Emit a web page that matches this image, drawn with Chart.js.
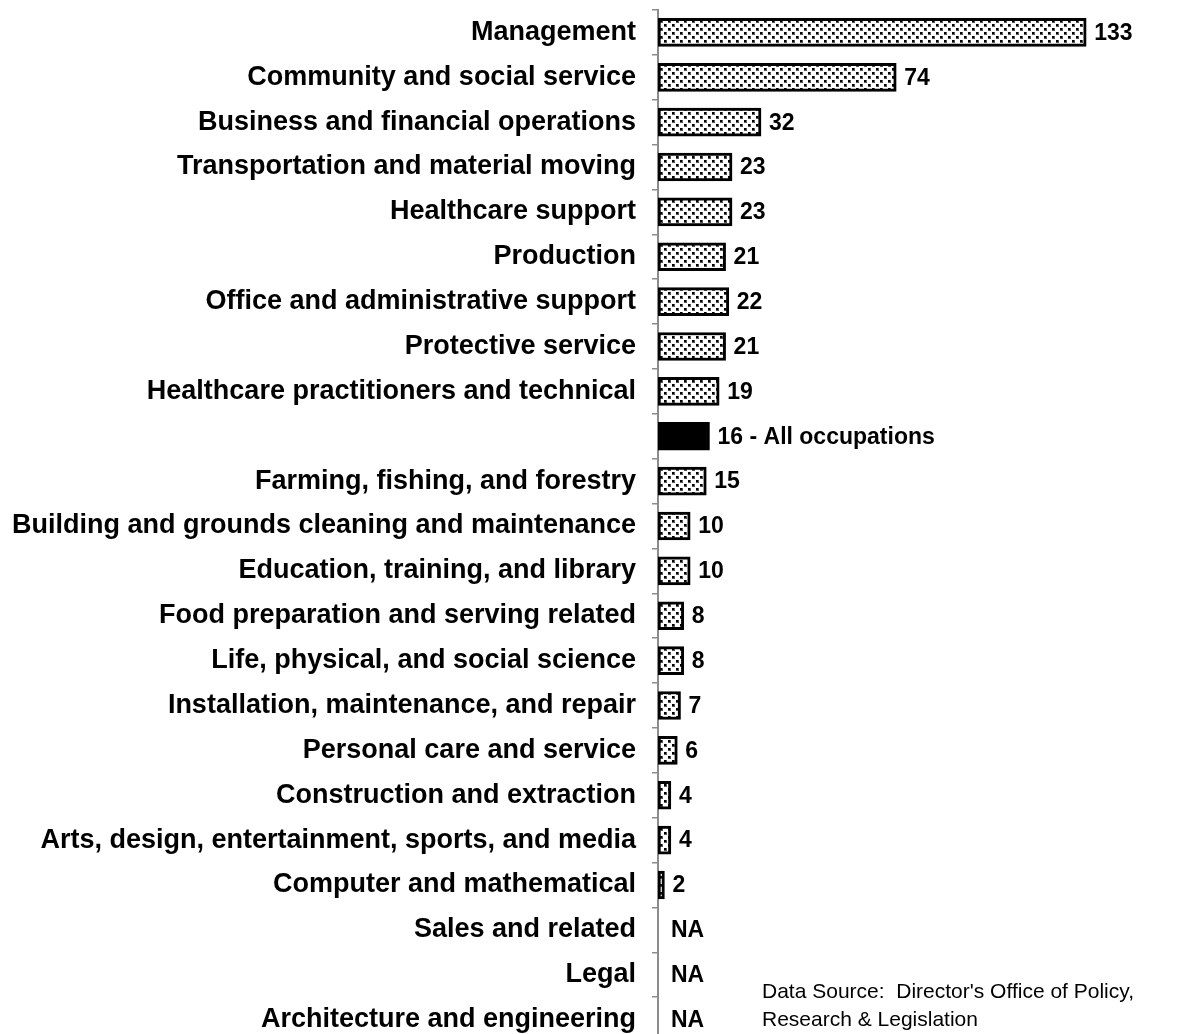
<!DOCTYPE html>
<html>
<head>
<meta charset="utf-8">
<script src="https://cdn.jsdelivr.net/npm/chart.js@4.4.1/dist/chart.umd.min.js"></script>
<style>
html, body { margin: 0; padding: 0; background: #fff; overflow: hidden; }
#wrap { position: relative; width: 1186px; height: 1042px; }
#note { position: absolute; left: 762px; top: 977px; font: 21px "Liberation Sans", Arial, sans-serif; line-height: 28px; color: #000; white-space: nowrap; }
</style>
</head>
<body>
<div id="wrap">
  <canvas id="occChart" width="1186" height="1042"></canvas>
  <div id="note">Data Source:&nbsp; Director's Office of Policy,<br>Research &amp; Legislation</div>
</div>
<script>
var categories = [
    'Management',
    'Community and social service',
    'Business and financial operations',
    'Transportation and material moving',
    'Healthcare support',
    'Production',
    'Office and administrative support',
    'Protective service',
    'Healthcare practitioners and technical',
    '',
    'Farming, fishing, and forestry',
    'Building and grounds cleaning and maintenance',
    'Education, training, and library',
    'Food preparation and serving related',
    'Life, physical, and social science',
    'Installation, maintenance, and repair',
    'Personal care and service',
    'Construction and extraction',
    'Arts, design, entertainment, sports, and media',
    'Computer and mathematical',
    'Sales and related',
    'Legal',
    'Architecture and engineering'
];
var values = [133, 74, 32, 23, 23, 21, 22, 21, 19, 16, 15, 10, 10, 8, 8, 7, 6, 4, 4, 2, null, null, null];
var allOccIndex = 9;
var allOccText = 'All occupations';
var naText = 'NA';

var fontFamily = '"Liberation Sans", Arial, sans-serif';

// black dots on white, like the excel pattern fill
function makeDots() {
    var c = document.createElement('canvas');
    c.width = 8;
    c.height = 8;
    var g = c.getContext('2d');
    g.fillStyle = '#fff';
    g.fillRect(0, 0, 8, 8);
    g.fillStyle = '#555';
    g.fillRect(0, 0, 3, 3);
    g.fillRect(4, 4, 3, 3);
    g.fillStyle = '#000';
    g.fillRect(0, 0, 2, 2);
    g.fillRect(4, 4, 2, 2);
    return g.createPattern(c, 'repeat');
}

var dots = makeDots();
var fills = values.map(function(v, i) {
    return i === allOccIndex ? '#000' : dots;
});

var valueLabels = {
    id: 'valueLabels',
    afterDatasetsDraw: function(chart) {
        var ctx = chart.ctx;
        var meta = chart.getDatasetMeta(0);
        var xScale = chart.scales.x;
        var yScale = chart.scales.y;
        ctx.save();
        ctx.font = 'bold 23px ' + fontFamily;
        ctx.fillStyle = '#000';
        ctx.textBaseline = 'middle';
        ctx.textAlign = 'left';
        values.forEach(function(v, i) {
            var y = yScale.getPixelForValue(i) + 1;
            var text, x;
            if (v === null) {
                text = naText;
                x = xScale.getPixelForValue(0) + 13;
            } else {
                text = String(v);
                if (i === allOccIndex) text += ' - ' + allOccText;
                x = meta.data[i].x + 8;
            }
            ctx.fillText(text, x, y);
        });
        ctx.restore();
    }
};

var ctx = document.getElementById('occChart').getContext('2d');
var occChart = new Chart(ctx, {
    type: 'bar',
    data: {
        labels: categories,
        datasets: [{
            data: values,
            backgroundColor: fills,
            borderColor: '#000',
            borderWidth: 3,
            borderSkipped: false,
            barThickness: 28
        }]
    },
    options: {
        indexAxis: 'y',
        responsive: false,
        animation: false,
        layout: { padding: { top: 10, right: 0, bottom: 0, left: 0 } },
        scales: {
            x: {
                display: false,
                min: 0,
                max: 164
            },
            y: {
                grid: {
                    display: true,
                    offset: true,
                    drawOnChartArea: false,
                    drawTicks: true,
                    tickLength: 6,
                    color: '#8c8c8c',
                    lineWidth: 1.5
                },
                border: { display: true, color: '#8c8c8c', width: 2 },
                ticks: {
                    autoSkip: false,
                    padding: 16,
                    color: '#000',
                    font: { family: fontFamily, size: 27, weight: 'bold' }
                },
                afterFit: function(scale) {
                    scale.width = 658;
                    scale.paddingTop = 0;
                    scale.paddingBottom = 0;
                }
            }
        },
        plugins: {
            legend: { display: false },
            tooltip: { enabled: false }
        }
    },
    plugins: [valueLabels]
});
</script>
</body>
</html>
